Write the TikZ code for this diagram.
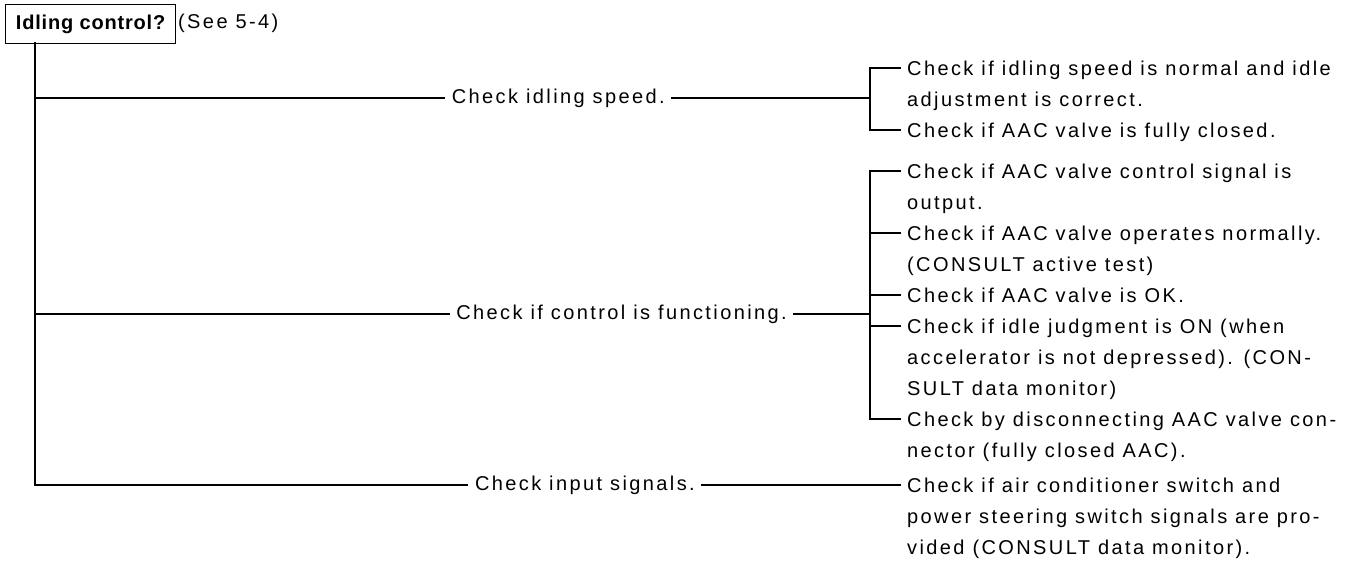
\documentclass[tikz,border=0pt]{standalone}
\usepackage{fontspec}
\setmainfont{Liberation Sans}[LetterSpace=12]
\newfontfamily\rootfont{Liberation Sans}[LetterSpace=4]
\newcommand\fl{\rule{0pt}{15.4pt}}
\begin{document}
\begin{tikzpicture}[x=1pt,y=-1pt,
  txt/.style={font=\fontsize{20pt}{31pt}\selectfont},
  lvl/.style={txt, anchor=east, inner xsep=7pt, inner ysep=0pt},
  item/.style={txt, anchor=north west, align=left, inner xsep=7pt, inner ysep=0pt},
  wire/.style={line width=1.3pt, line cap=rect}]
\useasboundingbox (0,0) rectangle (1353,576);
% root
\node[draw, line width=1.2pt, minimum width=170pt, minimum height=39pt, anchor=north west, inner sep=0pt,
      font=\rootfont\bfseries\fontsize{20pt}{24pt}\selectfont] (root) at (5,4) {Idling control?};
\node[txt, anchor=west, inner sep=0pt] (see) at (178,23) {(See 5-4)};
\coordinate (t0) at (35,43);
% level 1
\node[lvl] (l1) at (672,98) {Check idling speed.};
\node[lvl] (l2) at (794,314) {Check if control is functioning.};
\node[lvl] (l3) at (702,485) {Check input signals.};
% items (north west placed 8.4 above the tick line)
\node[item] (a1) at (900,59.6) {\fl Check if idling speed is normal and idle\\adjustment is correct.};
\node[item] (a2) at (900,121.6) {\fl Check if AAC valve is fully closed.};
\node[item] (b1) at (900,162.6) {\fl Check if AAC valve control signal is\\output.};
\node[item] (b2) at (900,224.6) {\fl Check if AAC valve operates normally.\\(CONSULT active test)};
\node[item] (b3) at (900,286.6) {\fl Check if AAC valve is OK.};
\node[item] (b4) at (900,317.6) {\fl Check if idle judgment is ON (when\\accelerator is not depressed). (CON-\\SULT data monitor)};
\node[item] (b5) at (900,410.6) {\fl Check by disconnecting AAC valve con-\\nector (fully closed AAC).};
\node[item] (c1) at (900,476.6) {\fl Check if air conditioner switch and\\power steering switch signals are pro-\\vided (CONSULT data monitor).};
\coordinate (j1) at (870,98);
\coordinate (j2) at (870,314);
% trunk and branches
\draw[wire] (t0) |- (l1.west);
\draw[wire] (t0) |- (l2.west);
\draw[wire] (t0) |- (l3.west);
% branch 1
\draw[wire] (l1.east) -- (j1);
\draw[wire] ([yshift=-8.4pt]a1.north west) -| (j1) |- ([yshift=-8.4pt]a2.north west);
% branch 2
\draw[wire] (l2.east) -- (j2);
\draw[wire] ([yshift=-8.4pt]b1.north west) -| (j2) |- ([yshift=-8.4pt]b5.north west);
\draw[wire] ([yshift=-8.4pt]b2.north west) -- ([yshift=-8.4pt]b2.north west -| j2);
\draw[wire] ([yshift=-8.4pt]b3.north west) -- ([yshift=-8.4pt]b3.north west -| j2);
\draw[wire] ([yshift=-8.4pt]b4.north west) -- ([yshift=-8.4pt]b4.north west -| j2);
% branch 3
\draw[wire] (l3.east) -- ([yshift=-8.4pt]c1.north west);
\end{tikzpicture}
\end{document}
